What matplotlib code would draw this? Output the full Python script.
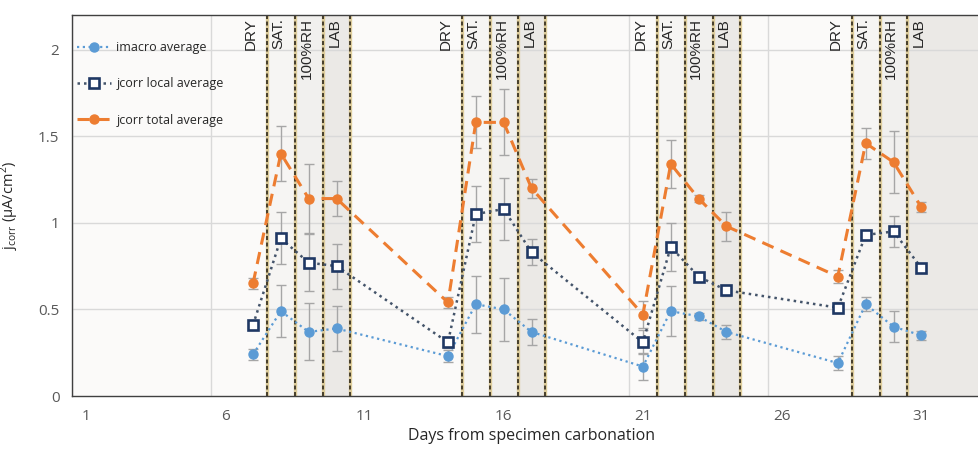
import numpy as np
import matplotlib
matplotlib.use("Agg")
import matplotlib.pyplot as plt
from matplotlib import font_manager

# measurement days for each exposure phase (DRY, SAT., 100%RH, LAB) x 4 cycles
days = [7, 8, 9, 10, 14, 15, 16, 17, 21, 22, 23, 24, 28, 29, 30, 31]

imacro = [0.24, 0.49, 0.37, 0.39, 0.23, 0.53, 0.50, 0.37,
          0.17, 0.49, 0.46, 0.37, 0.19, 0.53, 0.40, 0.35]
imacro_err = [0.03, 0.15, 0.165, 0.13, 0.035, 0.165, 0.18, 0.075,
              0.08, 0.145, 0.02, 0.04, 0.04, 0.04, 0.09, 0.025]

jcorr_local = [0.41, 0.91, 0.77, 0.75, 0.31, 1.05, 1.08, 0.83,
               0.31, 0.86, 0.69, 0.61, 0.51, 0.93, 0.95, 0.74]
jcorr_local_err = [0.03, 0.15, 0.165, 0.13, 0.03, 0.16, 0.18, 0.075,
                   0.07, 0.14, 0.02, 0.03, 0.03, 0.03, 0.09, 0.02]

jcorr_total = [0.65, 1.40, 1.14, 1.14, 0.54, 1.58, 1.58, 1.20,
               0.47, 1.34, 1.14, 0.98, 0.69, 1.46, 1.35, 1.09]
jcorr_total_err = [0.03, 0.16, 0.20, 0.10, 0.03, 0.15, 0.19, 0.055,
                   0.08, 0.14, 0.02, 0.085, 0.035, 0.09, 0.18, 0.03]

cycle_start = [7, 14, 21, 28]
phase_labels = ["DRY", "SAT.", "100%RH", "LAB"]
x_ticks = [1, 6, 11, 16, 21, 26, 31]


def pick_font(names):
    available = {f.name for f in font_manager.fontManager.ttflist}
    for n in names:
        if n in available:
            return n
    return "DejaVu Sans"


tick_font = pick_font(["Liberation Sans Narrow", "Open Sans", "DejaVu Sans"])
legend_font = pick_font(["Open Sans", "Noto Sans", "DejaVu Sans"])
label_font = pick_font(["Liberation Sans", "Arial", "DejaVu Sans"])

plt.rcParams["mathtext.fontset"] = "custom"
plt.rcParams["mathtext.rm"] = legend_font

x_min, x_max = 0.5, 33.5
fig = plt.figure(figsize=(9.79, 4.49), dpi=100)
ax = fig.add_axes([72 / 979, 53 / 449, (991 - 72) / 979, 381 / 449])
ax.set_facecolor("#FBFAF9")

# shaded phases and dashed phase boundaries
shade = ["#F6F5F3", "#F1F0EE", "#EBE9E6"]
for start in cycle_start:
    for k in range(3):
        left = start + 0.5 + k
        right = left + 1 if not (start == cycle_start[-1] and k == 2) else x_max
        ax.axvspan(left, right, color=shade[k], zorder=0.5, lw=0)
    for k in range(4):
        xb = start + 0.5 + k
        if xb >= 31.5:
            continue
        ax.axvline(xb, color="#DCCB9A", lw=2.4, zorder=1.2)
        ax.axvline(xb, color="#3A3322", lw=1.3, ls=(0, (2.2, 1.4)), zorder=1.3)
    for k, lab in enumerate(phase_labels):
        ax.text(start + k - 0.08, 0.992, lab, rotation=90, ha="center", va="top",
                transform=ax.get_xaxis_transform(), fontsize=11,
                family=label_font, color="#262626", zorder=5)

# grid
for xg in np.arange(0.5, x_max, 5):
    ax.axvline(xg, color="#D9D9D9", lw=1, zorder=0.8)
for yg in np.arange(0.5, 2.01, 0.5):
    ax.axhline(yg, color="#D9D9D9", lw=1, zorder=0.8)

err_kw = dict(fmt="none", ecolor="#A6A6A6", elinewidth=1, capsize=3.5, capthick=1, zorder=2)
ax.errorbar(days, imacro, yerr=imacro_err, **err_kw)
ax.errorbar(days, jcorr_local, yerr=jcorr_local_err, **err_kw)
ax.errorbar(days, jcorr_total, yerr=jcorr_total_err, **err_kw)

ax.plot(days, imacro, color="#5B9BD5", ls=(0, (1, 1.6)), lw=1.6, marker="o",
        ms=6.5, mec="#5B9BD5", label="imacro average", zorder=3)
ax.plot(days, jcorr_local, color="#44546A", ls=(0, (1, 1.6)), lw=1.8, marker="s",
        ms=7, mfc="white", mec="#1F3864", mew=1.9, label="jcorr local average", zorder=3)
ax.plot(days, jcorr_total, color="#ED7D31", ls=(0, (4, 2.5)), lw=2.2, marker="o",
        ms=6.5, label="jcorr total average", zorder=3)

ax.set_xlim(x_min, x_max)
ax.set_ylim(0, 2.2)
ax.set_xticks(x_ticks)
ax.set_yticks([0, 0.5, 1, 1.5, 2])
ax.set_yticklabels(["0", "0.5", "1", "1.5", "2"])
ax.tick_params(length=0, labelsize=11, labelcolor="#595959", pad=9)
for lbl in ax.get_xticklabels() + ax.get_yticklabels():
    lbl.set_family(tick_font)

for side in ["left", "bottom", "top"]:
    ax.spines[side].set_color("#404040")
    ax.spines[side].set_linewidth(1)
ax.spines["right"].set_visible(False)

ax.set_xlabel("Days from specimen carbonation", fontsize=11.5, family=tick_font,
              color="#262626", labelpad=3)
ax.set_ylabel(r"j$_{\mathrm{corr}}$ ($\mathrm{\mu}$A/cm$^{\mathrm{2}}$)",
              fontsize=10.5, family=legend_font, color="#262626", labelpad=12)

leg = ax.legend(loc="upper left", bbox_to_anchor=(0.0, 0.944), frameon=False,
                handlelength=2.7, labelspacing=1.85, handletextpad=0.45,
                borderaxespad=0.1, borderpad=0.3,
                prop={"family": legend_font, "size": 9})
for t in leg.get_texts():
    t.set_color("#262626")

fig.savefig("out.png", dpi=100)
